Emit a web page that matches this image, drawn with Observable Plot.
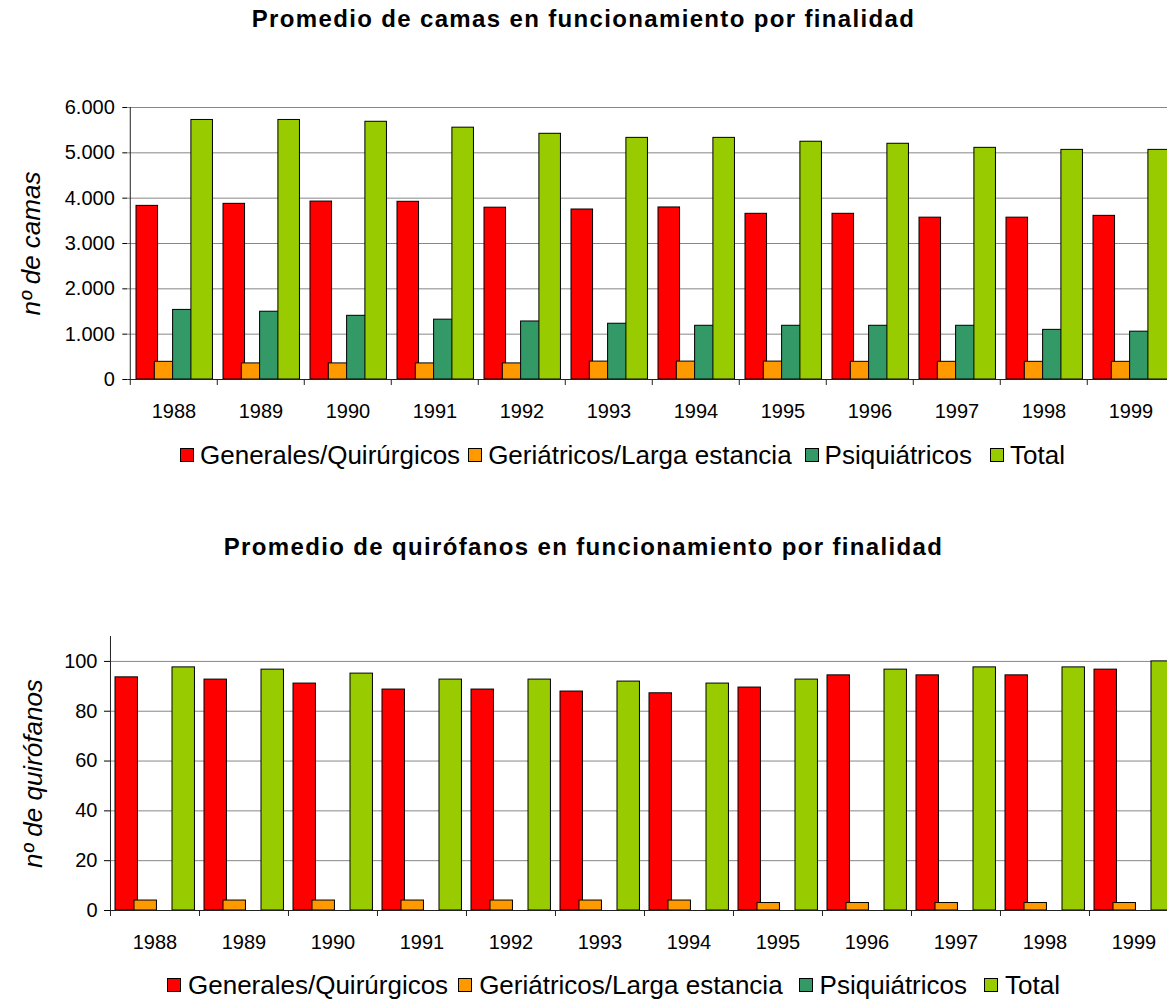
<!DOCTYPE html>
<html><head><meta charset="utf-8">
<script src="https://cdn.jsdelivr.net/npm/d3@7"></script>
<script src="https://cdn.jsdelivr.net/npm/@observablehq/plot@0.6"></script>
<style>
body{margin:0;background:#fff;font-family:"Liberation Sans",Arial,sans-serif;}
#page{position:relative;width:1167px;height:1002px;overflow:hidden;background:#fff;}
.title{position:absolute;left:0;width:1167px;text-align:center;font-weight:bold;font-size:24px;line-height:1;letter-spacing:1.35px;color:#000;}
.legend{position:absolute;display:flex;align-items:center;font-size:26px;line-height:1;white-space:nowrap;color:#000;}
.legend .sw{width:12px;height:12px;border:1px solid #000;margin-right:6px;flex:none;}
.chart{position:absolute;left:0;}
</style></head>
<body><div id="page"></div>
<script>
// ---- data ----
const years = ["1988","1989","1990","1991","1992","1993","1994","1995","1996","1997","1998","1999"];
const series = ["Generales/Quirúrgicos","Geriátricos/Larga estancia","Psiquiátricos","Total"];
const seriesColors = ["#FF0000","#FF9900","#339966","#99CC00"];

const camasGenerales     = [3830,3875,3925,3920,3790,3750,3795,3655,3655,3570,3570,3610];
const camasGeriatricos   = [390,355,355,355,355,395,395,395,390,390,390,390];
const camasPsiquiatricos = [1535,1495,1405,1320,1280,1230,1185,1185,1185,1185,1095,1055];
const camasTotal         = [5725,5725,5685,5555,5420,5330,5330,5245,5200,5110,5065,5065];

const quirofanosGenerales     = [93.6,92.7,91.1,88.7,88.7,87.9,87.2,89.5,94.4,94.4,94.4,96.7];
const quirofanosGeriatricos   = [4,4,4,4,4,4,4,3,3,3,3,3];
const quirofanosPsiquiatricos = [null,null,null,null,null,null,null,null,null,null,null,null];
const quirofanosTotal         = [97.6,96.7,95.1,92.7,92.7,91.9,91.1,92.7,96.7,97.6,97.6,100];

const camasTicks = [0,1000,2000,3000,4000,5000,6000];
const quirofanosTicks = [0,20,40,60,80,100];

const titles = ["Promedio de camas en funcionamiento por finalidad",
                "Promedio de quirófanos en funcionamiento por finalidad"];
const yLabels = ["nº de camas","nº de quirófanos"];

// ---- rendering ----
const esLocale = d3.formatLocale({decimal: ",", thousands: ".", grouping: [3], currency: ["", " €"]});
const fmt = esLocale.format(",d");
const page = document.getElementById("page");

function addTitle(text, top) {
  const d = document.createElement("div");
  d.className = "title"; d.style.top = top + "px"; d.textContent = text;
  page.appendChild(d);
}
function addLegend(top, left, gaps, swGap) {
  const d = document.createElement("div");
  d.className = "legend"; d.style.top = top + "px"; d.style.left = left + "px";
  series.forEach((s, i) => {
    const sw = document.createElement("span"); sw.className = "sw";
    sw.style.background = seriesColors[i]; sw.style.marginRight = swGap + "px";
    const lb = document.createElement("span"); lb.textContent = s;
    lb.style.marginRight = gaps[i] + "px";
    d.appendChild(sw); d.appendChild(lb);
  });
  page.appendChild(d);
}

function chart(cfg) {
  const step = (cfg.xRange[1] - cfg.xRange[0]) / years.length;
  const marks = [Plot.ruleY(cfg.grid, {y: d => d, stroke: "#878787", strokeWidth: 1})];
  cfg.values.forEach((vals, si) => {
    const rows = [];
    vals.forEach((v, yi) => { if (v != null) rows.push({year: years[yi], value: v}); });
    const il = cfg.barOffset + si * cfg.barStep;
    marks.push(Plot.barY(rows, {
      x: "year", y: "value", fill: seriesColors[si], stroke: "#000", strokeWidth: 1,
      insetLeft: il, insetRight: step - il - cfg.barWidth
    }));
  });
  marks.push(Plot.ruleY([0], {y: d => d, stroke: "#222"}));
  marks.push(Plot.ruleX([years[0]], {x: d => d, y1: 0, y2: cfg.yMax, dx: -step / 2, stroke: "#222"}));
  marks.push(Plot.ruleX(years, {x: d => d, y1: 0, y2: 0, insetTop: 6, dx: -step / 2, stroke: "#222"}));
  marks.push(Plot.text([cfg.yLabel], {text: d => d, frameAnchor: "left", textAnchor: "middle", lineAnchor: "middle",
    dx: cfg.yLabelX - cfg.xRange[0], rotate: -90, fontSize: 26, fontStyle: "italic", fill: "#000"}));
  const svg = Plot.plot({
    width: 1167, height: cfg.height,
    marginTop: cfg.marginTop, marginBottom: cfg.marginBottom, marginLeft: cfg.xRange[0], marginRight: 0,
    style: {fontFamily: '"Liberation Sans", Arial, sans-serif', fontSize: "20px", color: "#000", background: "transparent", overflow: "hidden"},
    x: {type: "band", domain: years, range: cfg.xRange, padding: 0, tickSize: 0, tickPadding: 24, label: null},
    y: {domain: [0, cfg.yMax], ticks: cfg.nTicks, tickSize: cfg.tickSize, tickPadding: cfg.tickPadding, tickFormat: fmt, label: null},
    marks
  });
  svg.classList.add("chart");
  svg.style.top = cfg.top + "px";
  svg.style.position = "absolute";
  page.appendChild(svg);
}

addTitle(titles[0], 7);
chart({
  top: 60, height: 380, marginTop: 47, marginBottom: 61,
  xRange: [127.3, 1176.7], yMax: 6000, nTicks: 6, grid: camasTicks,
  values: [camasGenerales, camasGeriatricos, camasPsiquiatricos, camasTotal],
  barOffset: 6, barStep: 18.3, barWidth: 22,
  tickSize: 5, tickPadding: 8, yLabel: yLabels[0], yLabelX: 31
});
addLegend(442, 180, [8, 13, 18, 0], 6);

addTitle(titles[1], 535);
chart({
  top: 600, height: 370, marginTop: 36, marginBottom: 60,
  xRange: [110, 1178.7], yMax: 110, nTicks: 5, grid: quirofanosTicks,
  values: [quirofanosGenerales, quirofanosGeriatricos, quirofanosPsiquiatricos, quirofanosTotal],
  barOffset: 5, barStep: 19, barWidth: 22.5,
  tickSize: 6, tickPadding: 7, yLabel: yLabels[1], yLabelX: 33
});
addLegend(972, 167, [10, 16, 17, 0], 7);
</script>
</body></html>
